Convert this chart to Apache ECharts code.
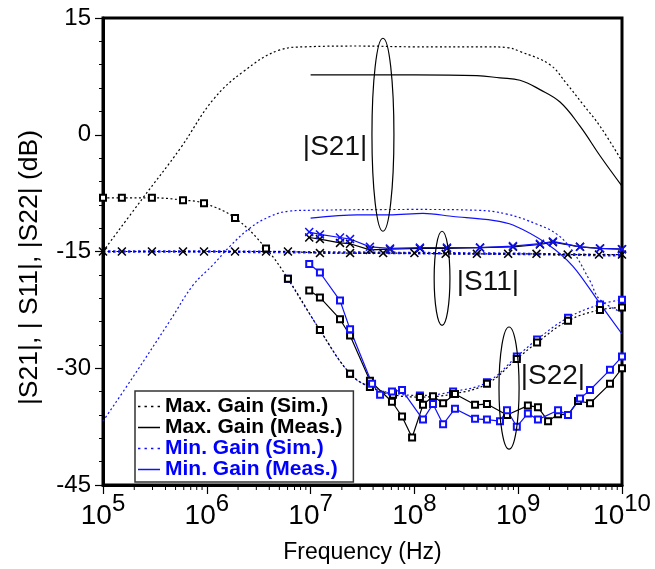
<!DOCTYPE html>
<html>
<head>
<meta charset="utf-8">
<script src="https://cdn.jsdelivr.net/npm/echarts@6/dist/echarts.min.js"></script>
<style>
  html, body { margin: 0; padding: 0; background: #fff; }
  #chart { width: 655px; height: 569px; }
</style>
</head>
<body>
<div id="chart"></div>
<script>
// frequencies in Hz, values in dB
var s21MaxSim = [[1e5, -15], [2.43e5, -8.1], [5.52e5, -1.8], [1.15e6, 4.5], [2.24e6, 8.1], [5.07e6, 10.9],
  [9e6, 11.3], [3e7, 11.4], [1e8, 11.3], [5e8, 11.3], [7.8e8, 11.2], [1.04e9, 10.7], [2.02e9, 9.0],
  [2.95e9, 6.5], [4.21e9, 3.9], [6.14e9, 1.1], [1e10, -3.4]]
var s21MaxMeas = [[1e7, 7.7], [3e7, 7.7], [1e8, 7.7], [4e8, 7.6], [6.68e8, 7.3], [1.04e9, 7.0], [1.62e9, 5.8],
  [2.53e9, 4.2], [3.94e9, 1.1], [6.14e9, -2.7], [1e10, -6.6]]
var s21MinSim = [[1e5, -36.8], [1.95e5, -31.1], [4.42e5, -23.9], [7.4e5, -19.3], [1.15e6, -16.7], [1.68e6, -14.3],
  [2.6e6, -12.0], [4.06e6, -10.5], [6.3e6, -9.8], [1e7, -9.7], [1e8, -9.6], [4e8, -9.7], [7.8e8, -10.2],
  [1.52e9, -11.5], [2.37e9, -12.8], [3.37e9, -15.0], [4.92e9, -18.8], [6.14e9, -21.2], [1e10, -22.8]]
var s21MinMeas = [[1e7, -10.7], [2.8e7, -10.3], [5.8e7, -10.3], [1.21e8, -10.1], [2.36e8, -10.5], [5.7e8, -11.0],
  [8.9e8, -11.6], [1.89e9, -14.0], [3.37e9, -16.9], [6.14e9, -21.7], [1e10, -25.6]]

var s11MaxSim = [[1e5, -15.0], [1.52e5, -15.0], [2.96e5, -15.0], [5.9e5, -15.0], [9.4e5, -15.0], [1.87e6, -15.0],
  [3.72e6, -15.0], [6.05e6, -15.0], [1.23e7, -15.2], [2.4e7, -15.2], [5e7, -15.2], [1e8, -15.2], [2e8, -15.3],
  [4e8, -15.3], [8e8, -15.3], [1.5e9, -15.3], [3e9, -15.4], [6e9, -15.4], [1e10, -15.4]]
var s11MinSim = [[1e5, -15.0], [1e6, -15.0], [1e7, -15.1], [1e8, -15.2], [1e9, -15.3], [1e10, -15.5]]
var s11MaxMeas = [[9.7e6, -13.2], [1.23e7, -13.4], [1.92e7, -13.9], [2.4e7, -14.0], [3.73e7, -14.8], [5.82e7, -14.7],
  [1.13e8, -14.6], [2.06e8, -14.6], [4.29e8, -14.5], [8.9e8, -14.4], [1.62e9, -14.1], [2.16e9, -13.8],
  [3.94e9, -14.4], [6.14e9, -14.6], [1e10, -14.7]]
var s11MinMeas = [[9.7e6, -12.5], [1.23e7, -12.8], [1.92e7, -13.2], [2.4e7, -13.4], [3.73e7, -14.4], [5.82e7, -14.6],
  [1.13e8, -14.5], [2.06e8, -14.5], [4.29e8, -14.5], [8.9e8, -14.3], [1.62e9, -14.0], [2.16e9, -13.7],
  [3.94e9, -14.4], [6.14e9, -14.6], [1e10, -14.7]]

var s22MaxSim = [[1e5, -8.1], [1.52e5, -8.1], [2.96e5, -8.1], [5.9e5, -8.4], [9.4e5, -8.8], [1.87e6, -10.7],
  [3.72e6, -14.6], [6.05e6, -18.5], [1.23e7, -25.1], [2.4e7, -30.7], [3.73e7, -32.4], [6.22e7, -33.4],
  [1.13e8, -33.7], [2.36e8, -33.3], [5e8, -32.0], [9.7e8, -28.8], [1.52e9, -26.7], [3.02e9, -23.9],
  [6.14e9, -22.5], [1e10, -22.2]]
var s22MinSim = [[6.05e6, -18.5], [1.23e7, -25.1], [2.4e7, -30.7], [3.73e7, -32.4], [6.22e7, -33.2],
  [1.13e8, -33.5], [2.36e8, -33.0], [5e8, -31.8], [9.7e8, -28.5], [1.52e9, -26.3], [3.02e9, -23.5],
  [6.14e9, -21.8], [1e10, -21.2]]
var s22MaxMeas = [[9.7e6, -20.0], [1.23e7, -20.9], [1.92e7, -23.7], [2.4e7, -25.8], [3.73e7, -31.6], [6.08e7, -34.3],
  [7.6e7, -36.2], [9.5e7, -38.9], [1.21e8, -34.7], [1.51e8, -33.6], [1.89e8, -34.5], [2.46e8, -33.3],
  [3.84e8, -34.7], [5e8, -34.6], [7.8e8, -36.0], [1.24e9, -34.8], [1.55e9, -35.0], [1.94e9, -36.8],
  [2.42e9, -35.9], [3.02e9, -36.0], [3.77e9, -34.2], [4.92e9, -34.5], [7.66e9, -32.0], [1e10, -30.0]]
var s22MinMeas = [[9.7e6, -16.6], [1.23e7, -17.7], [1.92e7, -21.3], [2.4e7, -25.0], [3.91e7, -32.0], [4.67e7, -33.4],
  [6.08e7, -33.0], [7.6e7, -32.8], [1.21e8, -36.6], [1.51e8, -34.6], [1.89e8, -37.2], [2.46e8, -35.2],
  [3.84e8, -36.5], [5e8, -36.6], [6.68e8, -36.8], [7.8e8, -35.4], [9.7e8, -37.5], [1.24e9, -35.8],
  [1.55e9, -36.6], [2.42e9, -35.4], [3.02e9, -36.0], [3.94e9, -33.9], [4.92e9, -32.8], [7.66e9, -30.2],
  [1e10, -28.5]]

// annotation ellipses: [fLeft, fRight, topDb, bottomDb]
var ellipses = [[3.9e7, 6.35e7, 12.4, -12.4], [1.55e8, 2.2e8, -12.4, -24.5], [6.53e8, 1.02e9, -24.7, -40.4]]
// annotation texts: [freq, dB, text]
var notes = [[1.72e7, -1.6, '|S21|'], [5.1e8, -18.9, '|S11|'], [2.16e9, -31.0, '|S22|']]

var legendNames = ['Max. Gain (Sim.)', 'Max. Gain (Meas.)', 'Min. Gain (Sim.)', 'Min. Gain (Meas.)']
var xMin = 1e5, xMax = 1e10, yMin = -45, yMax = 15

// log minor ticks 2..9 in each decade
var minorTicks = []
for (var d = xMin; d < xMax; d *= 10) {
  for (var m = 2; m <= 9; m++) minorTicks.push([d * m, yMin])
}

var BLACK = '#000'
var BLUE = '#1010ff'
var DOT = [2, 2.5]
var X_SYMBOL = 'path://M0,1.2L1.2,0L5,3.8L8.8,0L10,1.2L6.2,5L10,8.8L8.8,10L5,6.2L1.2,10L0,8.8L3.8,5Z'
var DOT_ICON = 'path://M0,0h2.4v1h-2.4zM6.5,0h2.4v1h-2.4zM13,0h2.4v1h-2.4zM19.6,0h2.4v1h-2.4z'
var LINE_ICON = 'path://M0,0h22v1h-22z'
var FONT = '"Liberation Sans", Arial, sans-serif'

function curve(name, data, color, dotted, extra) {
  var s = {
    name: name,
    type: 'line',
    data: data,
    symbol: 'none',
    color: color,
    lineStyle: { color: color, width: 1.2, type: dotted ? DOT : 'solid' },
    itemStyle: { color: color },
    z: 3
  }
  for (var k in extra) s[k] = extra[k]
  return s
}

var crossMark = { symbol: X_SYMBOL, symbolSize: 9, showSymbol: true }
var squareMark = { symbol: 'emptyRect', symbolSize: 6, showSymbol: true }

var chart = echarts.init(document.getElementById('chart'), null, { renderer: 'canvas' })
chart.setOption({
  animation: false,
  backgroundColor: '#fff',
  grid: { left: 103, top: 18, width: 519, height: 471, show: true, borderColor: '#000', borderWidth: 3 },
  legend: {
    orient: 'vertical',
    left: 135,
    top: 391,
    itemWidth: 22,
    itemHeight: 1.5,
    itemGap: 0,
    symbolKeepAspect: false,
    padding: [5, 11, 2, 3],
    borderColor: '#333',
    borderWidth: 1.5,
    backgroundColor: '#fff',
    textStyle: { fontSize: 21, fontWeight: 'bold', fontFamily: FONT, lineHeight: 20.5 },
    data: [
      { name: legendNames[0], icon: DOT_ICON, textStyle: { color: BLACK } },
      { name: legendNames[1], icon: LINE_ICON, textStyle: { color: BLACK } },
      { name: legendNames[2], icon: DOT_ICON, textStyle: { color: '#0000ff' } },
      { name: legendNames[3], icon: LINE_ICON, textStyle: { color: '#0000ff' } }
    ]
  },
  xAxis: {
    type: 'log',
    logBase: 10,
    min: xMin,
    max: xMax,
    name: 'Frequency (Hz)',
    nameLocation: 'middle',
    nameGap: 56,
    nameTextStyle: { fontSize: 23, fontFamily: FONT, color: '#000' },
    axisLine: { onZero: false, lineStyle: { color: '#000', width: 3 } },
    axisTick: { inside: false, length: 9, lineStyle: { color: '#000', width: 1.2 } },
    splitLine: { show: false },
    axisLabel: {
      margin: 7,
      showMinLabel: true,
      showMaxLabel: true,
      formatter: function (v) {
        return '{b|10}{s|' + Math.round(Math.log10(v)) + '}'
      },
      rich: {
        b: { fontSize: 28, fontFamily: FONT, color: '#000' },
        s: { fontSize: 24, fontFamily: FONT, color: '#000', padding: [0, 0, 24, 0] }
      }
    }
  },
  yAxis: {
    type: 'value',
    min: yMin,
    max: yMax,
    interval: 15,
    name: '|S21|, | S11|, |S22| (dB)',
    nameLocation: 'middle',
    nameGap: 60,
    nameTextStyle: { fontSize: 26.5, fontFamily: FONT, color: '#000', padding: [0, 32, 0, 0] },
    axisLine: { onZero: false, lineStyle: { color: '#000', width: 3 } },
    axisTick: { inside: false, length: 8, lineStyle: { color: '#000', width: 1.2 } },
    minorTick: { show: true, splitNumber: 5, length: 4, lineStyle: { color: '#000', width: 1 } },
    splitLine: { show: false },
    axisLabel: { margin: 12, fontSize: 24, fontFamily: FONT, color: '#000' }
  },
  series: [
    curve(legendNames[0], s21MaxSim, BLACK, true, { smooth: 0.4 }),
    curve(legendNames[1], s21MaxMeas, BLACK, false, { smooth: 0.4 }),
    curve(legendNames[2], s21MinSim, BLUE, true, { smooth: 0.4 }),
    curve(legendNames[3], s21MinMeas, BLUE, false, { smooth: 0.3 }),

    curve('S11 min sim', s11MinSim, BLUE, true, { lineStyle: { color: BLUE, width: 2.6, type: [2.5, 2.5] } }),
    curve('S11 max sim', s11MaxSim, BLACK, true, crossMark),
    curve('S11 max meas', s11MaxMeas, BLACK, false, crossMark),
    curve('S11 min meas', s11MinMeas, BLUE, false, crossMark),

    curve('S22 min sim', s22MinSim, BLUE, true, Object.assign({ smooth: 0.4 }, squareMark)),
    curve('S22 max sim', s22MaxSim, BLACK, true, Object.assign({ smooth: 0.4 }, squareMark)),
    curve('S22 max meas', s22MaxMeas, BLACK, false, squareMark),
    curve('S22 min meas', s22MinMeas, BLUE, false, squareMark),

    {
      name: 'minor ticks',
      type: 'custom',
      data: minorTicks,
      silent: true,
      clip: false,
      renderItem: function (params, api) {
        var p = api.coord([api.value(0), api.value(1)])
        return {
          type: 'line',
          shape: { x1: p[0], y1: p[1] + 1, x2: p[0], y2: p[1] + 5 },
          style: { stroke: '#000', lineWidth: 1 }
        }
      }
    },
    {
      name: 'ellipses',
      type: 'custom',
      data: ellipses,
      silent: true,
      z: 4,
      renderItem: function (params, api) {
        var a = api.coord([api.value(0), api.value(2)])
        var b = api.coord([api.value(1), api.value(3)])
        return {
          type: 'ellipse',
          shape: { cx: (a[0] + b[0]) / 2, cy: (a[1] + b[1]) / 2, rx: Math.abs(b[0] - a[0]) / 2, ry: Math.abs(b[1] - a[1]) / 2 },
          style: { fill: 'none', stroke: '#000', lineWidth: 1.2 }
        }
      }
    },
    {
      name: 'notes',
      type: 'custom',
      data: notes,
      silent: true,
      z: 5,
      renderItem: function (params, api) {
        var p = api.coord([api.value(0), api.value(1)])
        return {
          type: 'text',
          x: p[0],
          y: p[1],
          style: {
            text: notes[params.dataIndex][2],
            fill: '#111',
            font: '28px ' + FONT,
            align: 'center',
            verticalAlign: 'middle'
          }
        }
      }
    }
  ]
})
</script>
</body>
</html>
